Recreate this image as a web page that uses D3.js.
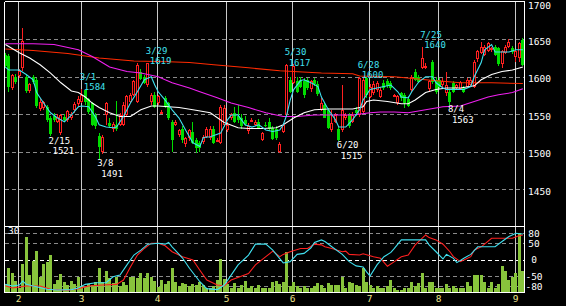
<!DOCTYPE html>
<html><head><meta charset="utf-8">
<script src="https://cdnjs.cloudflare.com/ajax/libs/d3/7.8.5/d3.min.js"></script>
<style>html,body{margin:0;padding:0;background:#000;}svg{display:block}</style>
</head><body><svg id="c" width="566" height="306"></svg>
<script>
// ---------- DATA ----------
const dates = ["1/26","1/27","1/28","1/31",
"2/1","2/2","2/3","2/4","2/7","2/8","2/9","2/10","2/14","2/15","2/16","2/17","2/18","2/21","2/22","2/24","2/25","2/28",
"3/1","3/2","3/3","3/4","3/7","3/8","3/9","3/10","3/11","3/14","3/15","3/16","3/17","3/18","3/22","3/23","3/24","3/25","3/28","3/29","3/30","3/31",
"4/1","4/4","4/5","4/6","4/7","4/8","4/11","4/12","4/13","4/14","4/15","4/18","4/19","4/20","4/21","4/22","4/25","4/26","4/27","4/28",
"5/2","5/6","5/9","5/10","5/11","5/12","5/13","5/16","5/17","5/18","5/19","5/20","5/23","5/24","5/25","5/26","5/27","5/30","5/31",
"6/1","6/2","6/3","6/6","6/7","6/8","6/9","6/10","6/13","6/14","6/15","6/16","6/17","6/20","6/21","6/22","6/23","6/24","6/27","6/28","6/29","6/30",
"7/1","7/4","7/5","7/6","7/7","7/8","7/11","7/12","7/13","7/14","7/15","7/19","7/20","7/21","7/22","7/25","7/26","7/27","7/28","7/29",
"8/1","8/2","8/3","8/4","8/5","8/8","8/9","8/10","8/12","8/15","8/16","8/17","8/18","8/19","8/22","8/23","8/24","8/25","8/26","8/29","8/30","8/31",
"9/1","9/2","9/5"];

const open  = [1629,1628,1585,1600,1601,1612,1600,1581,1600,1596,1558,1558,1560,1545,1548,1540,1525,1546,1542,1545,1556,1564,1567,1582,1570,1565,1549,1521,1500,1549,1538,1530,1536,1536,1536,1549,1567,1576,1567,1607,1600,1589,1567,1576,1565,1552,1572,1565,1540,1536,1523,1531,1510,1518,1527,1516,1512,1514,1520,1519,1531,1515,1512,1536,1529,1545,1552,1548,1545,1542,1527,1542,1536,1540,1516,1536,1540,1532,1530,1500,1527,1549,1596,1592,1594,1596,1594,1596,1583,1596,1591,1556,1563,1556,1529,1540,1531,1529,1545,1549,1540,1556,1549,1554,1598,1574,1578,1583,1574,1592,1594,1592,1575,1565,1578,1576,1571,1583,1607,1600,1612,1612,1583,1620,1596,1596,1589,1578,1580,1592,1585,1584,1585,1587,1589,1587,1623,1632,1630,1635,1636,1640,1638,1616,1632,1640,1638,1626,1625,1649];
const high  = [1632,1630,1604,1604,1610,1665,1603,1592,1602,1598,1570,1568,1562,1548,1552,1550,1550,1550,1556,1553,1566,1574,1584,1583,1572,1567,1552,1525,1522,1566,1545,1540,1568,1552,1566,1576,1578,1596,1618,1610,1603,1619,1578,1580,1576,1556,1575,1567,1542,1542,1531,1534,1520,1531,1540,1518,1515,1522,1533,1535,1534,1518,1562,1562,1540,1552,1560,1562,1550,1548,1538,1545,1542,1544,1527,1540,1545,1535,1534,1513,1538,1617,1600,1617,1600,1600,1598,1598,1596,1598,1594,1572,1565,1558,1556,1552,1534,1589,1552,1552,1553,1560,1600,1599,1600,1590,1594,1594,1586,1596,1597,1595,1577,1576,1580,1578,1574,1602,1610,1603,1640,1618,1596,1622,1600,1598,1598,1607,1584,1594,1590,1595,1588,1598,1598,1622,1636,1646,1642,1647,1640,1642,1640,1636,1643,1650,1641,1636,1647,1652];
const low   = [1612,1580,1583,1590,1598,1608,1578,1578,1590,1558,1555,1556,1540,1521,1540,1538,1523,1540,1540,1543,1552,1560,1565,1563,1550,1534,1530,1491,1497,1536,1532,1527,1528,1534,1534,1546,1565,1574,1565,1596,1590,1586,1563,1558,1563,1550,1558,1543,1500,1534,1520,1512,1507,1515,1510,1498,1500,1510,1518,1516,1510,1513,1510,1533,1527,1542,1538,1538,1530,1535,1524,1541,1534,1530,1514,1533,1528,1516,1516,1498,1525,1546,1578,1590,1578,1585,1572,1582,1580,1588,1575,1554,1545,1530,1527,1538,1515,1526,1542,1532,1538,1548,1547,1551,1572,1572,1576,1580,1572,1583,1585,1583,1573,1563,1568,1558,1560,1580,1594,1592,1610,1610,1580,1590,1577,1584,1587,1575,1563,1578,1583,1582,1578,1585,1587,1585,1620,1630,1628,1633,1633,1628,1615,1612,1630,1638,1630,1620,1620,1614];
const close = [1614,1587,1602,1593,1608,1648,1581,1590,1594,1561,1567,1566,1543,1524,1543,1546,1549,1542,1554,1549,1564,1570,1576,1566,1553,1536,1534,1507,1520,1565,1534,1537,1530,1549,1563,1574,1576,1594,1616,1598,1592,1618,1576,1560,1574,1553,1560,1545,1516,1540,1529,1516,1518,1529,1512,1505,1505,1520,1531,1531,1512,1516,1560,1558,1536,1550,1540,1543,1534,1537,1534,1543,1540,1532,1525,1534,1530,1518,1518,1511,1536,1616,1580,1615,1580,1587,1576,1585,1594,1590,1578,1565,1546,1532,1538,1549,1517,1556,1549,1534,1549,1552,1598,1596,1576,1587,1590,1592,1583,1585,1587,1585,1576,1574,1571,1565,1562,1600,1596,1594,1625,1615,1594,1594,1580,1587,1594,1589,1567,1580,1589,1593,1580,1596,1596,1620,1634,1640,1640,1645,1638,1630,1616,1634,1640,1647,1633,1634,1645,1616];
const volume = [3.8,11.3,8.7,5.3,2,12.9,25.2,8,14.3,18.8,7.2,12.9,14,17,3.8,5.7,8.3,4.7,3.5,5.3,3.8,7.2,3.2,2.7,3.8,3.5,5,11.3,4.7,9.8,6.8,4.2,7.2,3.2,5,3.5,7.2,7.2,6.8,8.7,6.8,8.7,7.2,5.3,2.7,5.7,3.8,5.3,11.3,4.7,3.2,4.2,3.8,3.2,3.8,3.5,4.7,3.5,2,2,3.2,5.7,15.2,6.3,3.8,2,4.2,2,3.5,5.3,2,3.2,2,3.5,2,2,2,4.7,5.3,4,5,18.2,3,4.7,3.2,2,3.2,2,2,3.2,4.2,3.5,2,4.2,3.5,3.5,3.5,7.2,2,4.7,4.2,3.5,3.2,11.3,4.7,3.5,2,3.2,2,2,3.2,5.7,2,1,1,2,2,4.7,3.2,4.2,9,2,5,5,2,2,2,3.8,2,3.2,2,2.2,2,5,3,8,8,8,5,2,4.7,2,3.8,12.2,9.8,5.7,7.2,9,26.7,9.8];

// moving averages: sampled day index / value
const maShortDay = [0,1,4,6,8,9,11,13,15,17,19,21,22,24,26,27,29,31,32,34,36,38,40,42,43,44,46,48,50,52,54,56,57,59,62,64,65,67,69,71,73,75,77,79,80,81,82,83,85,86,88,90,91,93,95,96,98,100,102,103,105,107,109,111,113,114,116,117,119,121,123,124,126,127,129,132,134,135,137,138,140,141,143,145,147,149];
const maShort    = [1613,1609,1609,1603,1596,1579,1565,1552,1545,1540,1549,1560,1561,1560,1546,1536,1533,1532,1533,1547,1565,1580,1596,1600,1589,1580,1569,1556,1545,1528,1512,1507,1519,1520,1525,1543,1549,1549,1536,1533,1536,1529,1527,1529,1536,1549,1569,1583,1595,1596,1592,1587,1573,1556,1543,1533,1533,1543,1556,1569,1583,1585,1587,1589,1580,1573,1572,1580,1593,1600,1600,1592,1585,1583,1583,1583,1587,1600,1619,1636,1643,1633,1633,1633,1636,1636];
const ma25Day = [0,4,7,10,13,16,19,21,23,25,27,30,33,36,39,42,44,47,50,54,59,63,67,70,74,78,80,83,86,89,93,96,100,103,104,106,110,114,116,118,121,124,127,131,135,137,140,143,146,149];
const ma25    = [1643,1632,1625,1616,1605,1592,1581,1579,1573,1565,1559,1552,1547,1547,1556,1561,1561,1560,1559,1556,1552,1539,1532,1531,1531,1532,1536,1545,1552,1556,1557,1557,1557,1560,1567,1569,1567,1564,1564,1569,1579,1583,1585,1585,1588,1596,1603,1607,1609,1613];
const ma75Day = [0,8,14,21,25,30,35,39,44,48,53,56,61,65,70,75,80,84,89,94,100,105,108,112,116,121,126,131,135,139,142,146,149];
const ma75    = [1644,1644,1643,1636,1627,1613,1607,1605,1600,1592,1585,1580,1572,1565,1559,1552,1547,1547,1549,1549,1549,1552,1553,1553,1552,1556,1560,1561,1567,1573,1576,1579,1584];
const ma200Day = [0,8,18,27,37,47,53,60,70,79,91,100,102,112,121,131,140,149];
const ma200    = [1637,1635,1631,1625,1621,1620,1619,1616,1612,1608,1605,1604,1601,1600,1596,1592,1592,1591];

// oscillator (lower panel)
const oscADay = [0,2,4,5,6,8,12,15,19,21,23,26,29,31,33,35,37,39,41,44,46,47,48,51,53,56,58,61,63,65,67,70,72,75,77,79,80,82,84,86,88,89,91,92,94,97,99,101,103,104,105,107,109,111,112,114,117,119,121,122,124,126,127,129,130,132,134,136,138,141,143,145,147,149];
const oscA    = [-75,-80,-77,-65,-75,-80,-90,-92,-91,-86,-75,-70,-70,-52,-47,-16,14,29,47,50,47,52,39,5,-26,-67,-88,-91,-77,-47,-16,14,47,47,29,3,-10,-6,16,19,36,52,60,55,39,16,-6,-19,-22,-37,-50,-16,9,22,34,60,60,60,60,45,24,2,16,4,-9,4,16,39,39,39,55,70,80,78];
const oscBDay = [0,2,6,10,13,18,21,24,28,32,34,36,38,40,42,44,46,48,51,54,56,58,61,63,65,70,72,75,77,79,80,82,85,87,89,91,92,94,97,98,99,102,103,106,108,110,112,114,116,118,121,122,124,126,128,129,131,132,134,135,137,140,143,146,148,149];
const oscB    = [-79,-86,-80,-80,-90,-93,-88,-80,-77,-75,-62,-22,14,34,50,50,42,24,9,-1,-32,-62,-77,-80,-62,-42,-16,9,26,9,16,24,34,34,47,45,39,34,24,26,16,14,18,9,4,-20,-6,9,14,45,75,67,60,47,24,9,-6,-1,9,29,39,65,65,65,73,75];

// annotations
const peakDates  = ["3/1","3/29","5/30","6/28","7/25"];
const peakValues = [1584,1619,1617,1600,1640];
const troughDates  = ["2/15","3/8","6/20","8/4"];
const troughValues = [1521,1491,1515,1563];

const priceTicks = [1700,1650,1600,1550,1500,1450];
const oscTicks = [80,50,0,-50,-80];
const volTopLabel = "30";

// ---------- DRAW ----------
const svg = d3.select("#c");
const N = dates.length;
const FONT = "'DejaVu Sans Mono', monospace";
const C = {up:"#ff2020", down:"#00dc00", short:"#40e0f0", ma25:"#ffffff", ma75:"#f020f0", ma200:"#ff2a00",
  vol:"#88c43c", grid:"#8a8a8a", vline:"#c8c8c8", month:"#f0e68c"};

svg.append("rect").attr("width",566).attr("height",306).attr("fill","#000");

const x = d3.scaleBand().domain(d3.range(N)).range([3.66, 524.6]).padding(0);
const cx = i => x(i) + x.bandwidth()/2;
const y = d3.scaleLinear().domain([1450,1700]).range([189.3,1.8]);
const yOsc = d3.scaleLinear().domain([-80,80]).range([286,233.3]);
const yVol = d3.scaleLinear().domain([0,30]).range([292.7,226]);
const LEFT = 5, RIGHT = 524, TOP = 2, LTOP = 226, LBOT = 293;

const defs = svg.append("defs");
defs.append("clipPath").attr("id","cm").append("rect").attr("x",LEFT).attr("y",TOP).attr("width",RIGHT-LEFT).attr("height",195);
defs.append("clipPath").attr("id","cl").append("rect").attr("x",LEFT).attr("y",LTOP).attr("width",RIGHT-LEFT).attr("height",LBOT-LTOP);

const px = v => Math.round(v) + 0.5;

// price grid
const g = svg.append("g").attr("shape-rendering","crispEdges");
priceTicks.forEach(t => {
  if (t < 1700) g.append("line").attr("x1",LEFT).attr("x2",RIGHT).attr("y1",px(y(t))).attr("y2",px(y(t)))
    .attr("stroke",C.grid).attr("stroke-dasharray","4,3");
});
// lower grid
oscTicks.forEach(t => {
  g.append("line").attr("x1",LEFT).attr("x2",RIGHT).attr("y1",px(yOsc(t))).attr("y2",px(yOsc(t)))
    .attr("stroke", t===0 ? "#ffffff" : C.grid).attr("stroke-dasharray","4,3");
});
// month separators
const monthStarts = [];
dates.forEach((d,i) => { if (i>0 && d.split("/")[0] !== dates[i-1].split("/")[0]) monthStarts.push(i); });
monthStarts.forEach(i => {
  const xx = px(cx(i) - 1.2);
  g.append("line").attr("x1",xx).attr("x2",xx).attr("y1",TOP).attr("y2",LBOT).attr("stroke",C.vline);
  svg.append("text").attr("x",xx).attr("y",302).attr("text-anchor","middle")
    .attr("fill",C.month).attr("font-family",FONT).attr("font-size","9.5px").text(dates[i].split("/")[0]);
});

// volume bars
svg.append("g").attr("clip-path","url(#cl)").attr("shape-rendering","crispEdges")
  .selectAll("rect").data(volume).join("rect")
  .attr("x",(d,i)=>Math.floor(cx(i))-1).attr("width",3)
  .attr("y",d=>yVol(d)).attr("height",d=>yVol(0)-yVol(d)).attr("fill",C.vol);

// oscillator lines
const lo = svg.append("g").attr("clip-path","url(#cl)");
const oscLine = d3.line().x(d=>cx(d[0])).y(d=>yOsc(d[1]));
lo.append("path").attr("d",oscLine(oscBDay.map((d,k)=>[d,oscB[k]]))).attr("fill","none").attr("stroke","#ff2020").attr("stroke-width",1.1);
lo.append("path").attr("d",oscLine(oscADay.map((d,k)=>[d,oscA[k]]))).attr("fill","none").attr("stroke",C.short).attr("stroke-width",1.1);

// candles
const cg = svg.append("g").attr("clip-path","url(#cm)").attr("shape-rendering","crispEdges");
d3.range(N).forEach(i => {
  const up = close[i] >= open[i];
  const col = up ? C.up : C.down;
  const xc = Math.floor(cx(i));
  cg.append("line").attr("x1",xc+0.5).attr("x2",xc+0.5).attr("y1",y(high[i])).attr("y2",y(low[i])).attr("stroke",col);
  const top = y(Math.max(open[i],close[i])), bot = y(Math.min(open[i],close[i]));
  if (up) {
    cg.append("rect").attr("x",xc-0.5).attr("width",2).attr("y",Math.round(top)+0.5).attr("height",Math.max(1,Math.round(bot-top)-1))
      .attr("fill","#000").attr("stroke",col);
  } else {
    cg.append("rect").attr("x",xc-1).attr("width",3).attr("y",Math.round(top)).attr("height",Math.max(1,Math.round(bot-top)))
      .attr("fill",col);
  }
});

// moving averages
const mline = d3.line().x(d=>cx(d[0])).y(d=>y(d[1]));
const mg = svg.append("g").attr("clip-path","url(#cm)").attr("fill","none").attr("stroke-width",1.1);
mg.append("path").attr("d",mline(ma200Day.map((d,k)=>[d,ma200[k]]))).attr("stroke",C.ma200);
mg.append("path").attr("d",mline(ma75Day.map((d,k)=>[d,ma75[k]]))).attr("stroke",C.ma75);
mg.append("path").attr("d",mline(ma25Day.map((d,k)=>[d,ma25[k]]))).attr("stroke",C.ma25);
mg.append("path").attr("d",mline(maShortDay.map((d,k)=>[d,maShort[k]]))).attr("stroke",C.short);

// annotations
const AF = "9px";
const ag = svg.append("g").attr("font-family",FONT).attr("font-size",AF);
peakDates.forEach((d,k) => {
  const i = dates.indexOf(d), yy = y(peakValues[k]);
  ag.append("text").attr("x",cx(i)-2).attr("y",yy-9).attr("fill",C.short).text(d);
  ag.append("text").attr("x",cx(i)+2).attr("y",yy+1.5).attr("fill",C.short).text(peakValues[k]);
});
troughDates.forEach((d,k) => {
  const i = dates.indexOf(d), yy = y(troughValues[k]);
  ag.append("text").attr("x",cx(i)-2).attr("y",yy+7.8).attr("fill","#ffffff").text(d);
  ag.append("text").attr("x",cx(i)+2).attr("y",yy+18.3).attr("fill","#ffffff").text(troughValues[k]);
});

// frames
const fg = svg.append("g").attr("stroke","#ffffff").attr("shape-rendering","crispEdges").attr("fill","none");
fg.append("line").attr("x1",LEFT-0.5).attr("x2",RIGHT+0.5).attr("y1",TOP-0.5).attr("y2",TOP-0.5);
fg.append("line").attr("x1",LEFT-0.5).attr("x2",LEFT-0.5).attr("y1",TOP-0.5).attr("y2",LBOT);
fg.append("line").attr("x1",RIGHT+0.5).attr("x2",RIGHT+0.5).attr("y1",TOP-0.5).attr("y2",LBOT);
fg.append("line").attr("x1",LEFT-0.5).attr("x2",RIGHT+0.5).attr("y1",LTOP+0.5).attr("y2",LTOP+0.5);
fg.append("line").attr("x1",LEFT-0.5).attr("x2",RIGHT+0.5).attr("y1",LBOT-0.5).attr("y2",LBOT-0.5);

// axis labels
const tg = svg.append("g").attr("font-family",FONT).attr("font-size","9.5px").attr("fill","#ffffff");
priceTicks.forEach(t => tg.append("text").attr("x",528).attr("y",Math.max(9,y(t)+5.5)).text(t));
oscTicks.forEach(t => tg.append("text").attr("x",534).attr("y",yOsc(t)+3.5).attr("text-anchor","middle").text(t));
tg.append("text").attr("x",8).attr("y",234).text(volTopLabel);
</script>
</body></html>
